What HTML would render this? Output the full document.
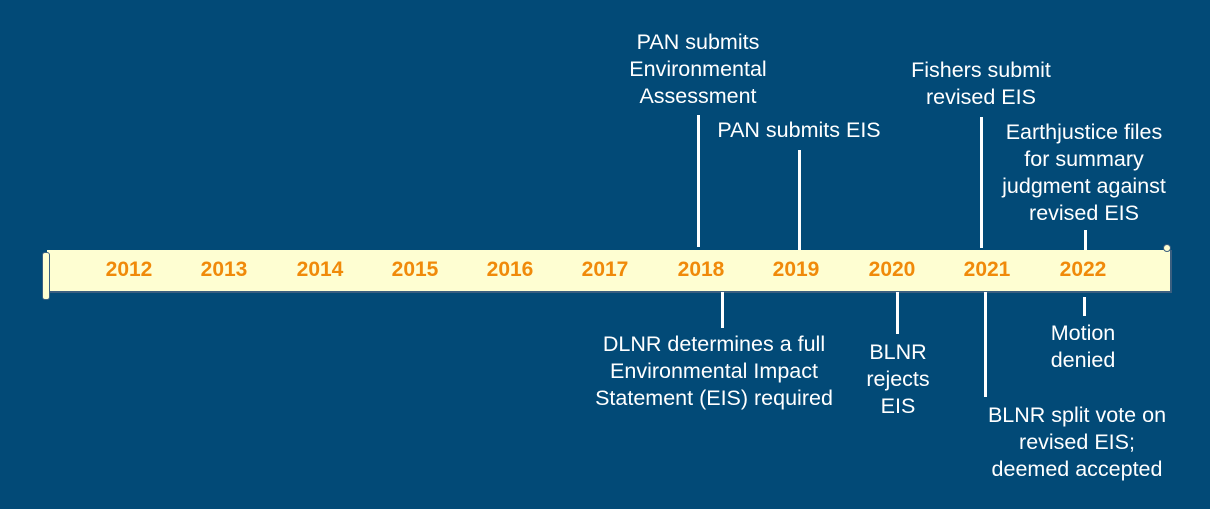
<!DOCTYPE html>
<html><head><style>
body{margin:0;width:1210px;height:509px;background:#024a77;position:relative;overflow:hidden;font-family:"Liberation Sans",sans-serif}
.t{position:absolute;color:#fff;font-size:21.5px;line-height:27px;text-align:center;white-space:nowrap;transform:translateX(-50%)}
.l{position:absolute;background:#fff;width:3px}
.y{position:absolute;top:258px;color:#f08a0a;font-weight:bold;font-size:21px;transform:translateX(-50%)}
.bar{position:absolute;left:47px;top:250px;width:1123px;height:41px;background:#fefed2;border-bottom:2px solid #3b5f80;border-right:2px solid #3b5f80}
.scroll{position:absolute;left:42px;top:252px;width:6px;height:46px;background:#fefed2;border:1px solid #3b5f80;border-radius:3px}
</style></head><body>
<div class="bar"></div>
<div class="scroll"></div>
<div style="position:absolute;left:1163px;top:244px;width:6px;height:6px;border-radius:50%;background:#fefed2;border:1px solid #3b5f80"></div>
<div class="y" style="left:129px">2012</div>
<div class="y" style="left:224px">2013</div>
<div class="y" style="left:320px">2014</div>
<div class="y" style="left:415px">2015</div>
<div class="y" style="left:510px">2016</div>
<div class="y" style="left:605px">2017</div>
<div class="y" style="left:701px">2018</div>
<div class="y" style="left:796px">2019</div>
<div class="y" style="left:892px">2020</div>
<div class="y" style="left:987px">2021</div>
<div class="y" style="left:1083px">2022</div>

<div class="l" style="left:697px;top:115px;height:132px"></div>
<div class="t" style="left:698px;top:29px">PAN submits<br>Environmental<br>Assessment</div>
<div class="l" style="left:798px;top:150px;height:100px"></div>
<div class="t" style="left:799px;top:117px">PAN submits EIS</div>
<div class="l" style="left:980px;top:117px;height:131px"></div>
<div class="t" style="left:981px;top:57px">Fishers submit<br>revised EIS</div>
<div class="l" style="left:1084px;top:230px;height:20px"></div>
<div class="t" style="left:1084px;top:119px">Earthjustice files<br>for summary<br>judgment against<br>revised EIS</div>

<div class="l" style="left:721px;top:292px;height:36px"></div>
<div class="t" style="left:714px;top:331px">DLNR determines a full<br>Environmental Impact<br>Statement (EIS) required</div>
<div class="l" style="left:896px;top:292px;height:42px"></div>
<div class="t" style="left:898px;top:339px">BLNR<br>rejects<br>EIS</div>
<div class="l" style="left:984px;top:292px;height:105px"></div>
<div class="t" style="left:1077px;top:402px">BLNR split vote on<br>revised EIS;<br>deemed accepted</div>
<div class="l" style="left:1083px;top:297px;height:19px"></div>
<div class="t" style="left:1083px;top:320px">Motion<br>denied</div>
</body></html>
